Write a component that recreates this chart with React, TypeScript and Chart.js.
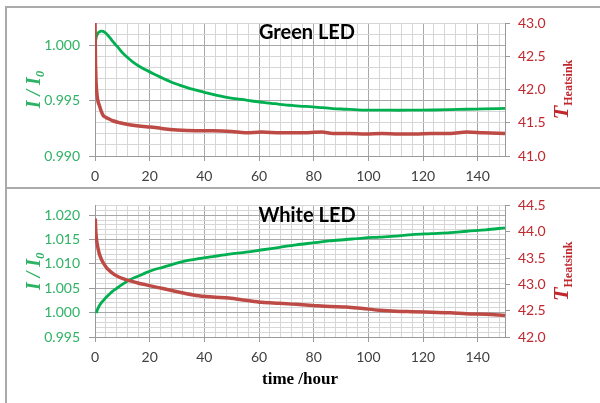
import React, { useEffect, useRef } from "react";
import { Chart, registerables } from "chart.js";
Chart.register(...registerables);

// ---------- shared x axis ----------
const xLabelTicks = [0, 20, 40, 60, 80, 100, 120, 140];
const xMin = 0;
const xMax = 150;
const xMinorStep = 4;

// ---------- Green LED panel ----------
const greenTimeI = [0, 0.15, 0.5, 1.0, 1.6, 2.3, 3.0, 3.8, 4.6, 5.5, 6.5, 7.5, 8.5, 10.2, 12, 13.8, 16, 18.7, 21.5, 24.8, 27.8, 30.9, 34, 37, 40, 43.1, 46, 49.2, 52, 55.3, 58, 61.4, 64.5, 67.5, 71, 74.8, 79.6, 83, 87, 91.9, 95, 99, 104, 111, 117, 123.6, 130, 135.8, 142, 150];
const greenIntensity = [1.0001, 1.0003, 1.00075, 1.00105, 1.0012, 1.00127, 1.00124, 1.00112, 1.00092, 1.00066, 1.00035, 1.00005, 0.99978, 0.99928, 0.99886, 0.9985, 0.99812, 0.99775, 0.9974, 0.99702, 0.99668, 0.9964, 0.99615, 0.99595, 0.99575, 0.99556, 0.9954, 0.99525, 0.99515, 0.99505, 0.99494, 0.99484, 0.99475, 0.99466, 0.99458, 0.9945, 0.99444, 0.99436, 0.99428, 0.99422, 0.99418, 0.99414, 0.99414, 0.99413, 0.99414, 0.99415, 0.99418, 0.99422, 0.99425, 0.9943];
const greenTimeT = [0, 0.08, 0.15, 0.25, 0.35, 0.6, 1.0, 1.6, 2.3, 3, 4, 5, 6.5, 9, 12.6, 18.7, 22, 25, 30, 37, 43, 50, 55, 61, 68, 75, 83, 87, 93, 99, 105, 111, 117, 123, 130, 136, 142, 150];
const greenHeatsink = [43.0, 42.8, 42.5, 42.3, 42.15, 41.98, 41.84, 41.76, 41.67, 41.61, 41.58, 41.56, 41.53, 41.5, 41.47, 41.44, 41.43, 41.41, 41.39, 41.38, 41.38, 41.37, 41.35, 41.36, 41.35, 41.35, 41.36, 41.34, 41.34, 41.33, 41.34, 41.33, 41.33, 41.34, 41.34, 41.36, 41.35, 41.34];
const greenLeftLabels = [0.99, 0.995, 1.0];
const greenLeftRange = [0.99, 1.002];
const greenRightLabels = [41.0, 41.5, 42.0, 42.5, 43.0];

// ---------- White LED panel ----------
const whiteTimeI = [0.5, 0.8, 1.2, 1.7, 2.3, 2.9, 4, 5.3, 6.5, 8, 10, 12.6, 16.3, 18.7, 21.5, 24.8, 27.8, 30.9, 34, 37, 43.1, 49.2, 55.3, 61.4, 67.5, 73.6, 79.6, 85.7, 91.9, 98, 104, 110, 116, 123, 130, 136, 143, 150];
const whiteIntensity = [0.9999, 1.0005, 1.001, 1.0015, 1.002, 1.0024, 1.0031, 1.0038, 1.0044, 1.005, 1.0058, 1.0067, 1.0076, 1.0082, 1.0088, 1.0093, 1.0098, 1.0103, 1.0107, 1.011, 1.0115, 1.012, 1.0124, 1.0129, 1.0134, 1.0139, 1.0143, 1.0147, 1.015, 1.0153, 1.0155, 1.0157, 1.016, 1.0162, 1.0164, 1.0167, 1.017, 1.0174];
const whiteTimeT = [0.1, 0.3, 0.7, 1.2, 1.7, 2.5, 3.5, 4.5, 6, 8, 10.2, 12.6, 16, 18.7, 24.8, 30.9, 37, 43, 49, 55, 61, 67.5, 73.6, 79.6, 86, 92, 98, 104, 110, 116, 123, 130, 136, 143, 150];
const whiteHeatsink = [44.25, 44.0, 43.8, 43.66, 43.56, 43.46, 43.37, 43.3, 43.23, 43.16, 43.11, 43.07, 43.02, 42.99, 42.92, 42.85, 42.79, 42.76, 42.74, 42.7, 42.66, 42.64, 42.62, 42.6, 42.58, 42.57, 42.54, 42.51, 42.49, 42.48, 42.47, 42.46, 42.44, 42.43, 42.41];
const whiteLeftLabels = [0.995, 1.0, 1.005, 1.01, 1.015, 1.02];
const whiteLeftRange = [0.995, 1.022];
const whiteRightLabels = [42.0, 42.5, 43.0, 43.5, 44.0, 44.5];

const leftMinorStep = 0.001;

// ---------- styles ----------
const GREEN_LINE = "#00b050";
const RED_LINE = "#bd4a44";
const GREEN_TEXT = "#2fb265";
const RED_TEXT = "#c0282e";
const GRID_MAJOR = "#a8a8a8";
const GRID_MINOR = "#d6d6d6";
const AXIS = "#9a9a9a";

const near = (list: number[], v: number) => list.some((l) => Math.abs(l - v) < 1e-7);

function steps(min: number, max: number, step: number) {
  const n = Math.round((max - min) / step);
  const out: number[] = [];
  for (let i = 0; i <= n; i++) out.push(+(min + i * step).toFixed(6));
  return out;
}

type Part = { text: string; font: string; dy: number };

function drawRotated(ctx: CanvasRenderingContext2D, cx: number, cy: number, parts: Part[], color: string) {
  ctx.save();
  ctx.translate(cx, cy);
  ctx.rotate(-Math.PI / 2);
  ctx.fillStyle = color;
  ctx.textBaseline = "alphabetic";
  ctx.textAlign = "left";
  let total = 0;
  const widths = parts.map((p) => {
    ctx.font = p.font;
    const w = ctx.measureText(p.text).width;
    total += w;
    return w;
  });
  let x = -total / 2;
  parts.forEach((p, i) => {
    ctx.font = p.font;
    ctx.fillText(p.text, x, p.dy);
    x += widths[i];
  });
  ctx.restore();
}

type PanelCfg = {
  title: string;
  timeI: number[];
  intensity: number[];
  timeT: number[];
  heatsink: number[];
  leftLabels: number[];
  leftRange: number[];
  rightLabels: number[];
  padTop: number;
  xHeight: number;
  height: number;
  xTitle: boolean;
};

function Panel({ cfg, top }: { cfg: PanelCfg; top: number }) {
  const ref = useRef<HTMLCanvasElement>(null);
  useEffect(() => {
    const leftTicks = steps(cfg.leftRange[0], cfg.leftRange[1], leftMinorStep);
    const xTicks = steps(xMin, 148, xMinorStep);
    const rightTicks = cfg.rightLabels.slice();
    const textPlugin = {
      id: "panelText",
      afterDraw(chart: any) {
        const { ctx, chartArea: a } = chart;
        const cy = (a.top + a.bottom) / 2;
        ctx.save();
        ctx.font = "bold 20px Lato";
        ctx.fillStyle = "#000";
        ctx.textAlign = "center";
        ctx.textBaseline = "middle";
        ctx.fillText(cfg.title, 307, a.top + 10);
        ctx.restore();
        drawRotated(ctx, 33, cy, [
          { text: "I / I", font: "bold italic 20px 'Liberation Serif'", dy: 7 },
          { text: "0", font: "bold italic 13px 'Liberation Serif'", dy: 11 },
        ], GREEN_TEXT);
        drawRotated(ctx, 561, cy, [
          { text: "T", font: "bold italic 22px 'Liberation Serif'", dy: 7 },
          { text: "Heatsink", font: "bold 12px 'Liberation Serif'", dy: 11 },
        ], RED_TEXT);
        if (cfg.xTitle) {
          ctx.save();
          ctx.font = "bold 17px 'Liberation Serif'";
          ctx.fillStyle = "#000";
          ctx.textAlign = "center";
          ctx.textBaseline = "middle";
          ctx.fillText("time /hour", 300, a.bottom + 43);
          ctx.restore();
        }
      },
    };
    const chart = new Chart(ref.current as HTMLCanvasElement, {
      type: "line",
      data: {
        datasets: [
          {
            label: "T heatsink",
            data: cfg.timeT.map((t, i) => ({ x: t, y: cfg.heatsink[i] })),
            borderColor: RED_LINE,
            borderWidth: 3.5,
            pointRadius: 0,
            cubicInterpolationMode: "monotone",
            yAxisID: "yR",
          },
          {
            label: "I/I0",
            data: cfg.timeI.map((t, i) => ({ x: t, y: cfg.intensity[i] })),
            borderColor: GREEN_LINE,
            borderWidth: 2.8,
            pointRadius: 0,
            cubicInterpolationMode: "monotone",
            yAxisID: "yL",
          },
        ],
      },
      options: {
        animation: false,
        responsive: false,
        devicePixelRatio: 1,
        layout: { padding: { top: cfg.padTop, left: 0, right: 0, bottom: 0 } },
        plugins: { legend: { display: false }, tooltip: { enabled: false } },
        scales: {
          x: {
            type: "linear",
            min: xMin,
            max: xMax,
            afterBuildTicks: (s: any) => {
              s.ticks = xTicks.map((v) => ({ value: v }));
            },
            afterFit: (s: any) => {
              s.height = cfg.xHeight;
            },
            ticks: {
              autoSkip: false,
              maxRotation: 0,
              padding: 7,
              color: "#404040",
              font: { family: "Lato", size: 14 },
              callback: (v: any) => (near(xLabelTicks, Number(v)) ? String(v) : ""),
            },
            grid: {
              color: (c: any) => (c.tick && near(xLabelTicks, c.tick.value) ? GRID_MAJOR : GRID_MINOR),
              tickColor: (c: any) => (c.tick && near(xLabelTicks, c.tick.value) ? AXIS : "rgba(0,0,0,0)"),
              tickLength: 5,
              lineWidth: 1,
            },
            border: { display: true, color: AXIS, width: 1 },
          },
          yL: {
            type: "linear",
            position: "left",
            min: cfg.leftRange[0],
            max: cfg.leftRange[1],
            afterBuildTicks: (s: any) => {
              s.ticks = leftTicks.map((v) => ({ value: v }));
            },
            afterFit: (s: any) => {
              s.width = 95;
            },
            ticks: {
              autoSkip: false,
              padding: 9,
              color: GREEN_TEXT,
              font: { family: "Lato", size: 14 },
              callback: (v: any) => (near(cfg.leftLabels, Number(v)) ? Number(v).toFixed(3) : ""),
            },
            grid: {
              color: (c: any) => (c.tick && near(cfg.leftLabels, c.tick.value) ? GRID_MAJOR : GRID_MINOR),
              tickColor: (c: any) => (c.tick && near(cfg.leftLabels, c.tick.value) ? AXIS : "rgba(0,0,0,0)"),
              tickLength: 6,
            },
            border: { display: true, color: AXIS, width: 1 },
          },
          yR: {
            type: "linear",
            position: "right",
            min: cfg.rightLabels[0],
            max: cfg.rightLabels[cfg.rightLabels.length - 1],
            afterBuildTicks: (s: any) => {
              s.ticks = rightTicks.map((v) => ({ value: v }));
            },
            afterFit: (s: any) => {
              s.width = 95;
            },
            ticks: {
              autoSkip: false,
              padding: 8,
              color: RED_TEXT,
              font: { family: "Lato", size: 14 },
              callback: (v: any) => Number(v).toFixed(1),
            },
            grid: { drawOnChartArea: false, tickLength: 5, tickColor: AXIS },
            border: { display: true, color: AXIS, width: 1 },
          },
        },
      },
      plugins: [textPlugin],
    } as any);
    return () => chart.destroy();
  }, []);
  return (
    <canvas
      ref={ref}
      width={600}
      height={cfg.height}
      style={{ position: "absolute", left: 0, top, width: 600, height: cfg.height, display: "block" }}
    />
  );
}

const greenPanel: PanelCfg = {
  title: "Green LED",
  timeI: greenTimeI,
  intensity: greenIntensity,
  timeT: greenTimeT,
  heatsink: greenHeatsink,
  leftLabels: greenLeftLabels,
  leftRange: greenLeftRange,
  rightLabels: greenRightLabels,
  padTop: 23,
  xHeight: 32,
  height: 188,
  xTitle: false,
};

const whitePanel: PanelCfg = {
  title: "White LED",
  timeI: whiteTimeI,
  intensity: whiteIntensity,
  timeT: whiteTimeT,
  heatsink: whiteHeatsink,
  leftLabels: whiteLeftLabels,
  leftRange: whiteLeftRange,
  rightLabels: whiteRightLabels,
  padTop: 16,
  xHeight: 66,
  height: 215,
  xTitle: true,
};

export default function App() {
  const line = "#aaaaaa";
  return (
    <div style={{ position: "fixed", left: 0, top: 0, width: 600, height: 403, background: "#fff", overflow: "hidden" }}>
      <Panel cfg={greenPanel} top={0} />
      <Panel cfg={whitePanel} top={188} />
      <div style={{ position: "absolute", left: 5, top: 6, width: 595, height: 2, background: line }} />
      <div style={{ position: "absolute", left: 5, top: 187, width: 595, height: 2, background: line }} />
      <div style={{ position: "absolute", left: 5, top: 6, width: 2, height: 397, background: line }} />
    </div>
  );
}
